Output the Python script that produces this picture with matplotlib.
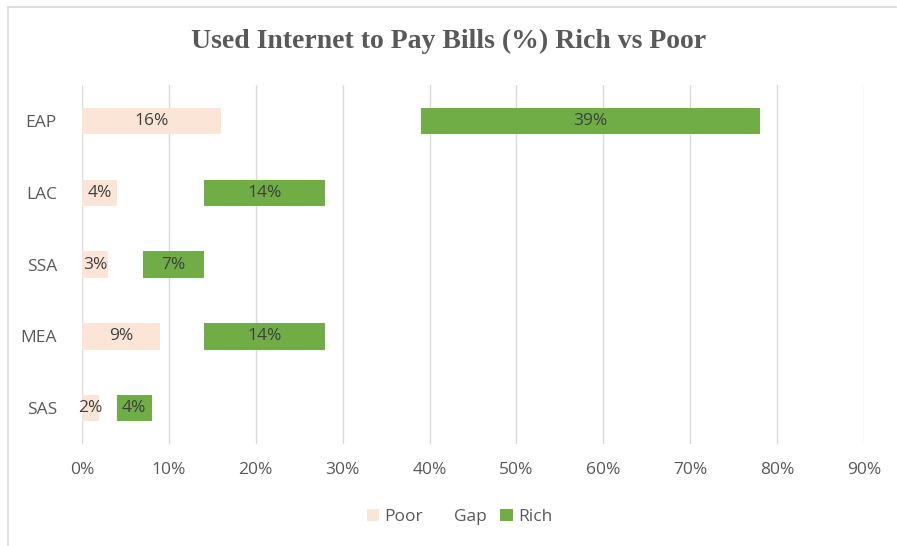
import numpy as np
import matplotlib.pyplot as plt
from matplotlib.patches import Patch
from matplotlib.lines import Line2D

# data
regions = ['EAP', 'LAC', 'SSA', 'MEA', 'SAS']
poor = [16, 4, 3, 9, 2]
gap = [23, 10, 4, 5, 2]
rich = [39, 14, 7, 14, 4]
ticks = [0, 10, 20, 30, 40, 50, 60, 70, 80, 90]

poor_col = '#fbe5d6'
rich_col = '#70ad47'
txt_col = '#404040'

plt.rcParams['font.family'] = ['Open Sans', 'DejaVu Sans']

fig = plt.figure(figsize=(8.97, 5.46), dpi=100)
ax = fig.add_axes([0.0914, 0.187, 0.8719, 0.657])

y = np.arange(len(regions))
h = 0.37
ax.barh(y, poor, height=h, color=poor_col, label='Poor')
ax.barh(y, gap, left=poor, height=h, color='none', label='Gap')
rleft = np.array(poor) + np.array(gap)
ax.barh(y, rich, left=rleft, height=h, color=rich_col, label='Rich')

for i in range(len(regions)):
    ax.text(poor[i] / 2, y[i], f'{poor[i]}%', ha='center', va='center',
            fontsize=12.5, color=txt_col)
    ax.text(rleft[i] + rich[i] / 2, y[i], f'{rich[i]}%', ha='center', va='center',
            fontsize=12.5, color=txt_col)

ax.set_xlim(0, 90)
ax.set_ylim(4.5, -0.5)
ax.set_xticks(ticks)
ax.set_xticklabels([f'{t}%' for t in ticks])
ax.set_yticks(y)
ax.set_yticklabels(regions)
ax.tick_params(axis='both', length=0, labelsize=12.5, labelcolor='#595959')
ax.tick_params(axis='x', pad=13)
ax.tick_params(axis='y', pad=18)
ax.grid(axis='x', color='#d9d9d9', linewidth=1)
ax.set_axisbelow(True)
for s in ax.spines.values():
    s.set_visible(False)

fig.suptitle('Used Internet to Pay Bills (%) Rich vs Poor', family='Liberation Serif',
             fontweight='bold', fontsize=20, color='#595959', y=0.947)

handles = [Patch(facecolor=poor_col), Patch(facecolor='none', edgecolor='none'),
           Patch(facecolor=rich_col)]
fig.legend(handles, ['Poor', 'Gap', 'Rich'], loc='center', bbox_to_anchor=(0.512, 0.053),
           ncol=3, frameon=False, fontsize=12.5, handlelength=0.7, handleheight=0.7,
           handletextpad=0.3, columnspacing=0.8, labelcolor='#595959')

# chart border (top and left edges only)
fig.add_artist(Line2D([8 / 897, 8 / 897], [0, 1 - 7 / 546], transform=fig.transFigure,
                      color='#d9d9d9', linewidth=1.2))
fig.add_artist(Line2D([8 / 897, 896 / 897], [1 - 7 / 546, 1 - 7 / 546],
                      transform=fig.transFigure, color='#d9d9d9', linewidth=1.2))

fig.savefig('out.png', dpi=100)
